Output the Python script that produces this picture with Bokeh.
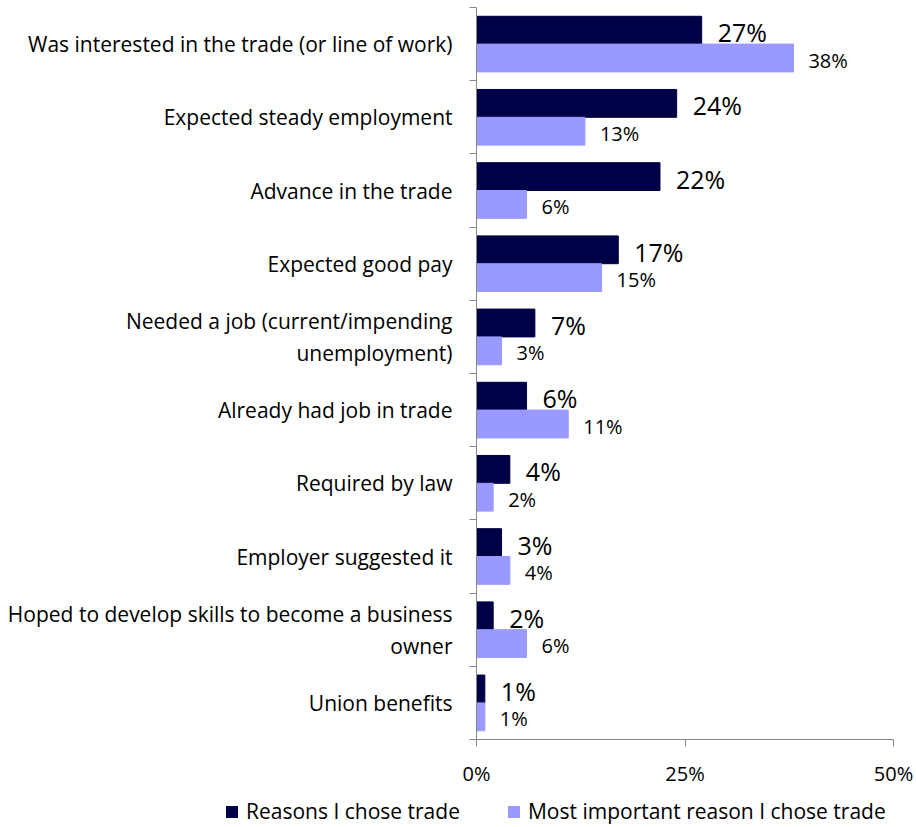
from bokeh.plotting import figure
from bokeh.models import (ColumnDataSource, Range1d, FixedTicker,
                          PrintfTickFormatter, Legend, LegendItem)
from bokeh.transform import dodge
from bokeh.core.properties import value
from bokeh.embed import file_html
from bokeh.resources import INLINE

categories = [
    "Was interested in the trade (or line of work)",
    "Expected steady employment",
    "Advance in the trade",
    "Expected good pay",
    "Needed a job (current/impending\nunemployment)",
    "Already had job in trade",
    "Required by law",
    "Employer suggested it",
    "Hoped to develop skills to become a business\nowner",
    "Union benefits",
]
reasons = [27, 24, 22, 17, 7, 6, 4, 3, 2, 1]
most_important = [38, 13, 6, 15, 3, 11, 2, 4, 6, 1]
series_names = ["Reasons I chose trade", "Most important reason I chose trade"]
x_ticks = [0, 25, 50]

DARK = "#000046"
LIGHT = "#9999FF"
AXIS = "#868686"
FONT = "Open Sans"

n = len(categories)
# category slot centres, first category at the top
centres = [n - 1 - i + 0.5 for i in range(n)]
boundaries = list(range(n + 1))

src = ColumnDataSource(dict(
    cat=categories,
    pos=centres,
    reasons=reasons,
    most=most_important,
    reasons_lbl=[f"{v}%" for v in reasons],
    most_lbl=[f"{v}%" for v in most_important],
))

p = figure(width=916, height=790,
           y_range=Range1d(0, n),
           x_range=Range1d(0, 50),
           output_backend="svg", toolbar_location=None,
           min_border_left=476, min_border_right=23,
           min_border_top=7, min_border_bottom=51)
p.outline_line_color = None
p.xgrid.visible = False
p.ygrid.visible = False

p.hbar(y=dodge("pos", 0.19), left=0, right="reasons", height=0.38,
       color=DARK, source=src)
p.hbar(y=dodge("pos", -0.19), left=0, right="most", height=0.38,
       color=LIGHT, source=src)

p.text(x="reasons", y=dodge("pos", 0.19), text="reasons_lbl", source=src,
       x_offset=16, y_offset=2, text_baseline="middle", text_align="left",
       text_font=value(FONT), text_font_size="25px", text_color="#000000")
p.text(x="most", y=dodge("pos", -0.19), text="most_lbl", source=src,
       x_offset=15, y_offset=2, text_baseline="middle", text_align="left",
       text_font=value(FONT), text_font_size="20px", text_color="#000000")

# x axis
xa = p.xaxis[0]
xa.ticker = FixedTicker(ticks=x_ticks)
xa.formatter = PrintfTickFormatter(format="%d%%")
xa.axis_line_color = AXIS
xa.major_tick_line_color = AXIS
xa.major_tick_out = 7
xa.major_tick_in = 0
xa.minor_tick_line_color = None
xa.major_label_text_font = FONT
xa.major_label_text_font_size = "20px"
xa.major_label_text_color = "#000000"
xa.major_label_standoff = 13

# y axis: labels at category centres, tick marks at category boundaries
ya = p.yaxis[0]
ya.ticker = FixedTicker(ticks=centres, minor_ticks=boundaries)
ya.major_label_overrides = {c: lbl for c, lbl in zip(centres, categories)}
ya.major_tick_out = 0
ya.major_tick_in = 0
ya.minor_tick_out = 7
ya.minor_tick_in = 0
ya.axis_line_color = AXIS
ya.minor_tick_line_color = AXIS
ya.major_label_standoff = 17
ya.major_label_text_font = FONT
ya.major_label_text_font_size = "21px"
ya.major_label_text_color = "#000000"
ya.major_label_text_line_height = 1.15

# legend strip below the chart (a separate root so its frame spans the full width)
lg = figure(width=916, height=35, x_range=Range1d(-300, -200), y_range=Range1d(-300, -200),
            output_backend="svg", toolbar_location=None,
            x_axis_location=None, y_axis_location=None,
            min_border_left=0, min_border_right=0, min_border_top=0, min_border_bottom=0)
lg.outline_line_color = None
lg.xgrid.visible = False
lg.ygrid.visible = False
# same bars, far outside this strip's visible range: only their legend swatches show
g1 = lg.hbar(y="pos", left=0, right="reasons", height=0.38, fill_color=DARK,
             line_color=None, source=src)
g2 = lg.hbar(y="pos", left=0, right="most", height=0.38, fill_color=LIGHT,
             line_color=None, source=src)

legend = Legend(items=[LegendItem(label=series_names[0], renderers=[g1]),
                       LegendItem(label=series_names[1], renderers=[g2])],
                orientation="horizontal", location=(224, 0),
                glyph_width=15, glyph_height=15, label_standoff=7, spacing=46,
                padding=0, margin=0, border_line_color=None, background_fill_alpha=0,
                label_text_font=FONT, label_text_font_size="21px",
                label_text_color="#000000")
lg.add_layout(legend, "center")

open("out.html", "w").write(file_html([p, lg], INLINE))
